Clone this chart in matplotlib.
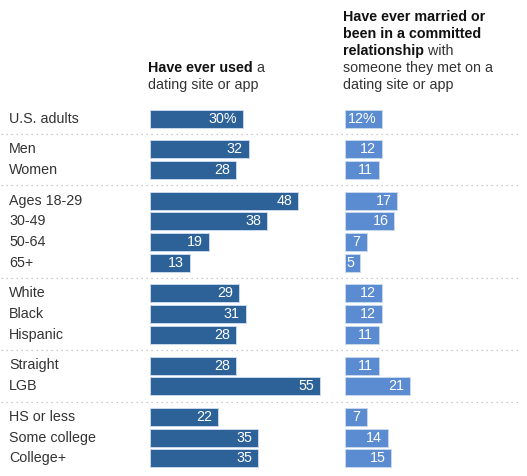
import matplotlib.pyplot as plt

# Data
categories = ["U.S. adults",
              "Men", "Women",
              "Ages 18-29", "30-49", "50-64", "65+",
              "White", "Black", "Hispanic",
              "Straight", "LGB",
              "HS or less", "Some college", "College+"]
groups = [0, 1, 1, 2, 2, 2, 2, 3, 3, 3, 4, 4, 5, 5, 5]
used_app = [30, 32, 28, 48, 38, 19, 13, 29, 31, 28, 28, 55, 22, 35, 35]
met_partner = [12, 12, 11, 17, 16, 7, 5, 12, 12, 11, 11, 21, 7, 14, 15]

W, H = 527, 476
DARK = "#2d6299"
LIGHT = "#5b8bd0"
EDGE = "#c9d8ec"
TXT = "#333333"
FS = 10.3
FONT = "Liberation Sans"

plt.rcParams["font.family"] = [FONT, "DejaVu Sans"]

fig = plt.figure(figsize=(W / 100, H / 100), dpi=100)

# row centres in pixel units (top = 0)
row_step, group_gap, first = 20.85, 9.5, 119
ys = [first + i * row_step + g * group_gap for i, g in enumerate(groups)]
bar_h = 18

px_per_unit = 3.085
panel_w = 175


def panel(left_px, values, color, pct_first=True):
    ax = fig.add_axes([left_px / W, 0, panel_w / W, 1])
    ax.set_xlim(0, panel_w / px_per_unit)
    ax.set_ylim(H, 0)
    ax.axis("off")
    ax.barh(ys, values, height=bar_h, color=color, edgecolor=EDGE, linewidth=0.7)
    for i, (y, v) in enumerate(zip(ys, values)):
        lab = f"{v}%" if (i == 0 and pct_first) else str(v)
        ax.annotate(lab, (v, y), xytext=(-4.3, 0), textcoords="offset points",
                    ha="right", va="center", color="white", fontsize=FS)
    return ax


# background axes in pixel coordinates for labels and separators
bg = fig.add_axes([0, 0, 1, 1])
bg.set_xlim(0, W)
bg.set_ylim(H, 0)
bg.axis("off")

for i in range(1, len(groups)):
    if groups[i] != groups[i - 1]:
        ysep = (ys[i] + ys[i - 1]) / 2
        bg.plot([1, 518], [ysep, ysep], color="#bbbbbb", lw=0.9,
                linestyle=(0, (1, 3)))

for y, c in zip(ys, categories):
    bg.text(9, y, c, ha="left", va="center", fontsize=FS, color=TXT)

panel(150, used_app, DARK)
panel(345, met_partner, LIGHT)

# headers
fig.canvas.draw()
renderer = fig.canvas.get_renderer()


def mixed_line(x, y, bold_part, normal_part):
    t = None
    if bold_part:
        t = bg.text(x, y, bold_part, fontsize=FS, fontweight="bold",
                    color="#111111", ha="left", va="baseline")
    if normal_part:
        x2 = x
        if t is not None:
            bb = t.get_window_extent(renderer)
            x2 = x + bb.width * (W / fig.bbox.width)
        bg.text(x2, y, normal_part, fontsize=FS, color=TXT,
                ha="left", va="baseline")


line = 17
base = 89
mixed_line(148, base - line, "Have ever used", " a")
mixed_line(148, base, "", "dating site or app")

mixed_line(343, base - 4 * line, "Have ever married or", "")
mixed_line(343, base - 3 * line, "been in a committed", "")
mixed_line(343, base - 2 * line, "relationship", " with")
mixed_line(343, base - line, "", "someone they met on a")
mixed_line(343, base, "", "dating site or app")

fig.savefig("out.png", dpi=100)
